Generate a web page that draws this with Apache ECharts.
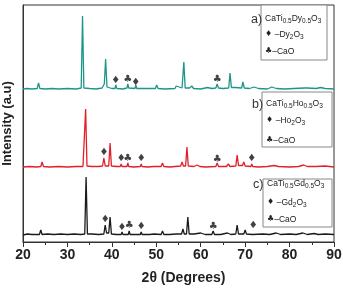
<!DOCTYPE html>
<html>
<head>
<meta charset="utf-8">
<script src="https://cdn.jsdelivr.net/npm/echarts@6/dist/echarts.min.js"></script>
<style>
  html, body { margin: 0; padding: 0; background: #fff; }
  #chart { width: 343px; height: 288px; }
</style>
</head>
<body>
<div id="chart"></div>
<script>
// XRD patterns, [2theta, intensity above own baseline] (a.u.)
var patternDy = [[20,0],[21,0.5],[22,0],[23.2,0.5],[23.5,6],[23.8,0.5],[25,0],[26.5,0.5],[28,0],[30,0.5],[32,0],[33.1,1],[33.4,73],[33.7,1],[35,0.5],[36.5,0],[37.8,1],[38.3,5],[38.6,30],[38.9,2],[40,0.5],[40.7,0.5],[40.9,4],[41.1,0.5],[42.5,0],[43.4,1],[43.6,5],[43.8,1],[45.2,0.5],[45.4,4],[45.6,0.5],[47.2,0.5],[47.5,2],[47.8,0.5],[49.8,0.5],[50.1,4],[50.4,0.5],[52,0],[54.2,0.5],[54.5,3],[54.8,1],[55.8,1],[56.2,27],[56.5,1],[57.5,1],[58,3],[58.4,0.5],[60,0],[61.5,1.5],[62.5,0.5],[63.4,1],[63.7,5],[64,1],[65,0.5],[66.3,1],[66.6,16],[66.9,1.5],[67.8,1.5],[69.2,1],[69.5,7],[69.8,1],[71,0.5],[72,2],[73,0.5],[75,0],[76,2],[77,0.5],[79,0],[81,0.5],[83.3,1],[83.6,2.5],[84,1],[86,0.5],[87,1.5],[88,0.5],[90,0]];
var patternHo = [[20,0],[21.5,0.5],[23,0],[24,0.5],[24.3,5],[24.6,0.5],[26,0],[28,0.5],[30,0],[32,0.5],[33.5,0.5],[33.8,1],[34.1,58],[34.4,1],[35.5,0.5],[37,0.5],[37.9,1],[38.2,9],[38.5,1],[39.3,1],[39.6,24],[39.9,1],[41,0.5],[41.9,0.5],[42.1,3],[42.3,0.5],[43.4,0.5],[43.6,4],[43.8,0.5],[45,0],[46.4,0.5],[46.6,3],[46.8,0.5],[48,0],[49.5,0.5],[51.1,0.5],[51.4,4],[51.7,0.5],[53,0],[55.5,1],[55.8,5],[56.1,1],[56.6,1],[56.9,20],[57.2,1],[58.5,0.5],[59.2,2],[59.8,0.5],[61,0],[63.4,0.5],[63.7,4],[64,0.5],[65.8,0.5],[66.2,3],[66.6,0.5],[67.9,1],[68.2,12],[68.5,1.5],[69.4,1.5],[69.7,5],[70,1],[71.3,0.5],[71.5,3],[71.7,0.5],[73,0],[75,0.5],[76.5,1.5],[77.5,0.5],[80,0],[82,0.5],[83.2,2],[84,0.5],[86,0.5],[88,1],[90,0]];
var patternGd = [[20,0],[21,1],[22,0.5],[23.7,0.5],[24,5],[24.3,0.5],[25.5,1],[27,0.5],[28.5,1],[30,0.5],[31.5,1],[33,0.5],[33.9,1],[34.2,58],[34.5,1],[35.5,1],[37,0.5],[38.2,1],[38.5,10],[38.8,2],[39.3,2],[39.6,18],[39.9,1],[41,0.5],[42.1,0.5],[42.3,3],[42.5,0.5],[43.7,0.5],[43.9,4],[44.1,0.5],[45.5,0.5],[46.4,0.5],[46.6,3],[46.8,0.5],[48.5,0.5],[49.5,1],[51.1,0.5],[51.4,4],[51.7,0.5],[53,0.5],[54.5,1],[55.7,1],[56,6],[56.3,1],[56.8,1],[57.1,18],[57.4,1],[58.5,1],[60,2],[61,0.5],[62.5,0.5],[62.8,4],[63.1,0.5],[64.5,0.5],[66,2],[66.8,0.5],[67.9,1],[68.2,10],[68.5,1],[69.7,1],[70,5],[70.3,1],[71.6,0.5],[71.8,2.5],[72,0.5],[74,1],[75.5,0.5],[77,2],[78,0.5],[80,1],[81.5,0.5],[83,2],[84,0.5],[85.5,1.5],[86.5,0.5],[88,1],[90,0.5]];

// impurity peak markers [2theta, height above baseline]
var diamondDy = [[40.9,9],[45.4,7]];
var clubDy = [[43.6,10],[63.7,10]];
var diamondHo = [[38.2,15],[42.1,9],[46.6,9],[71.5,9]];
var clubHo = [[43.6,9],[63.7,8]];
var diamondGd = [[38.5,16],[42.3,8],[46.6,9],[71.8,10]];
var clubGd = [[43.9,10],[62.8,9]];

var xTicks = [20, 30, 40, 50, 60, 70, 80, 90];

// vertical stacking offsets of the three patterns
var offsetDy = 153, offsetHo = 75, offsetGd = 7;

var chart = echarts.init(document.getElementById('chart'));

function shift(arr, off) {
    return arr.map(function (p) { return [p[0], p[1] + off]; });
}

function lineSeries(data, off, color) {
    return {
        type: 'line',
        data: shift(data, off),
        showSymbol: false,
        silent: true,
        lineStyle: { color: color, width: 1.3 },
        z: 2
    };
}

function markSeries(data, off, glyph) {
    return {
        type: 'scatter',
        data: shift(data, off),
        symbolSize: 1,
        itemStyle: { color: 'rgba(0,0,0,0)' },
        label: {
            show: true,
            position: 'inside',
            formatter: glyph,
            fontSize: 10,
            color: '#111',
            fontFamily: 'DejaVu Sans'
        },
        silent: true,
        z: 3
    };
}

// legend box with formula text
function legendBox(tag, el, x, y, w, h, ys) {
    var textStyle = {
        fontFamily: 'Liberation Sans',
        fill: '#222',
        rich: {
            m: { fontSize: 8.5, lineHeight: 11, verticalAlign: 'top', fontFamily: 'Liberation Sans', color: '#222' },
            s: { fontSize: 6.5, lineHeight: 11, verticalAlign: 'bottom', fontFamily: 'Liberation Sans', color: '#222' },
            g: { fontSize: 8, lineHeight: 11, verticalAlign: 'top', fontFamily: 'DejaVu Sans', color: '#222' }
        }
    };
    return [
        { type: 'rect', shape: { x: x, y: y, width: w, height: h },
          style: { fill: '#fff', stroke: '#888', lineWidth: 1 }, z: 10 },
        { type: 'text', x: x - 10, y: ys[0] - 7,
          style: { text: tag, fontSize: 12.5, fill: '#333', fontFamily: 'Liberation Sans' }, z: 11 },
        { type: 'text', x: x + 4, y: ys[0] - 6,
          style: Object.assign({ text: '{m|CaTi}{s|0.5}{m|' + el + '}{s|0.5}{m|O}{s|3}' }, textStyle), z: 11 },
        { type: 'text', x: x + 4, y: ys[1] - 6,
          style: Object.assign({ text: '{g|♦ }{m|–' + el + '}{s|2}{m|O}{s|3}' }, textStyle), z: 11 },
        { type: 'text', x: x + 4, y: ys[2] - 6,
          style: Object.assign({ text: '{g|♣}{m|–CaO}' }, textStyle), z: 11 }
    ];
}

chart.setOption({
    animation: false,
    grid: {
        left: 23, right: 9, top: 5, bottom: 46,
        show: true, borderColor: '#333', borderWidth: 1,
        outerBoundsMode: 'none'
    },
    xAxis: {
        type: 'value',
        min: 20, max: 90, interval: 10,
        name: '2θ (Degrees)',
        nameLocation: 'middle',
        nameGap: 29,
        nameTextStyle: { fontSize: 14, fontWeight: 'bold', color: '#222', fontFamily: 'Liberation Sans', padding: [0, 0, 0, 10] },
        axisLine: { lineStyle: { color: '#333', width: 1 } },
        axisTick: { show: true, inside: false, length: 5, lineStyle: { color: '#333' } },
        minorTick: { show: true, splitNumber: 2, length: 3, lineStyle: { color: '#333' } },
        axisLabel: {
            fontSize: 14, fontWeight: 'bold', color: '#222', margin: 6,
            fontFamily: 'Liberation Sans',
            formatter: function (v) { return xTicks.indexOf(v) >= 0 ? String(v) : ''; }
        },
        splitLine: { show: false }
    },
    yAxis: {
        type: 'value',
        min: 0, max: 237,
        name: 'Intensity (a.u)',
        nameLocation: 'middle',
        nameGap: 9,
        nameTextStyle: { fontSize: 13, fontWeight: 'bold', color: '#222', fontFamily: 'Liberation Sans' },
        axisLine: { show: true, lineStyle: { color: '#333', width: 1 } },
        axisTick: { show: false },
        axisLabel: { show: false },
        splitLine: { show: false }
    },
    series: [
        lineSeries(patternDy, offsetDy, '#1d968a'),
        lineSeries(patternHo, offsetHo, '#e3202a'),
        lineSeries(patternGd, offsetGd, '#1a1a1a'),
        markSeries(diamondDy, offsetDy, '♦'),
        markSeries(clubDy, offsetDy, '♣'),
        markSeries(diamondHo, offsetHo, '♦'),
        markSeries(clubHo, offsetHo, '♣'),
        markSeries(diamondGd, offsetGd, '♦'),
        markSeries(clubGd, offsetGd, '♣')
    ],
    graphic: [].concat(
        legendBox('a)', 'Dy', 261, 5, 66, 55, [20, 36, 53]),
        legendBox('b)', 'Ho', 262, 92, 70, 55, [105, 122, 142]),
        legendBox('c)', 'Gd', 263, 179, 69, 48, [185, 204, 221])
    )
});
</script>
</body>
</html>
